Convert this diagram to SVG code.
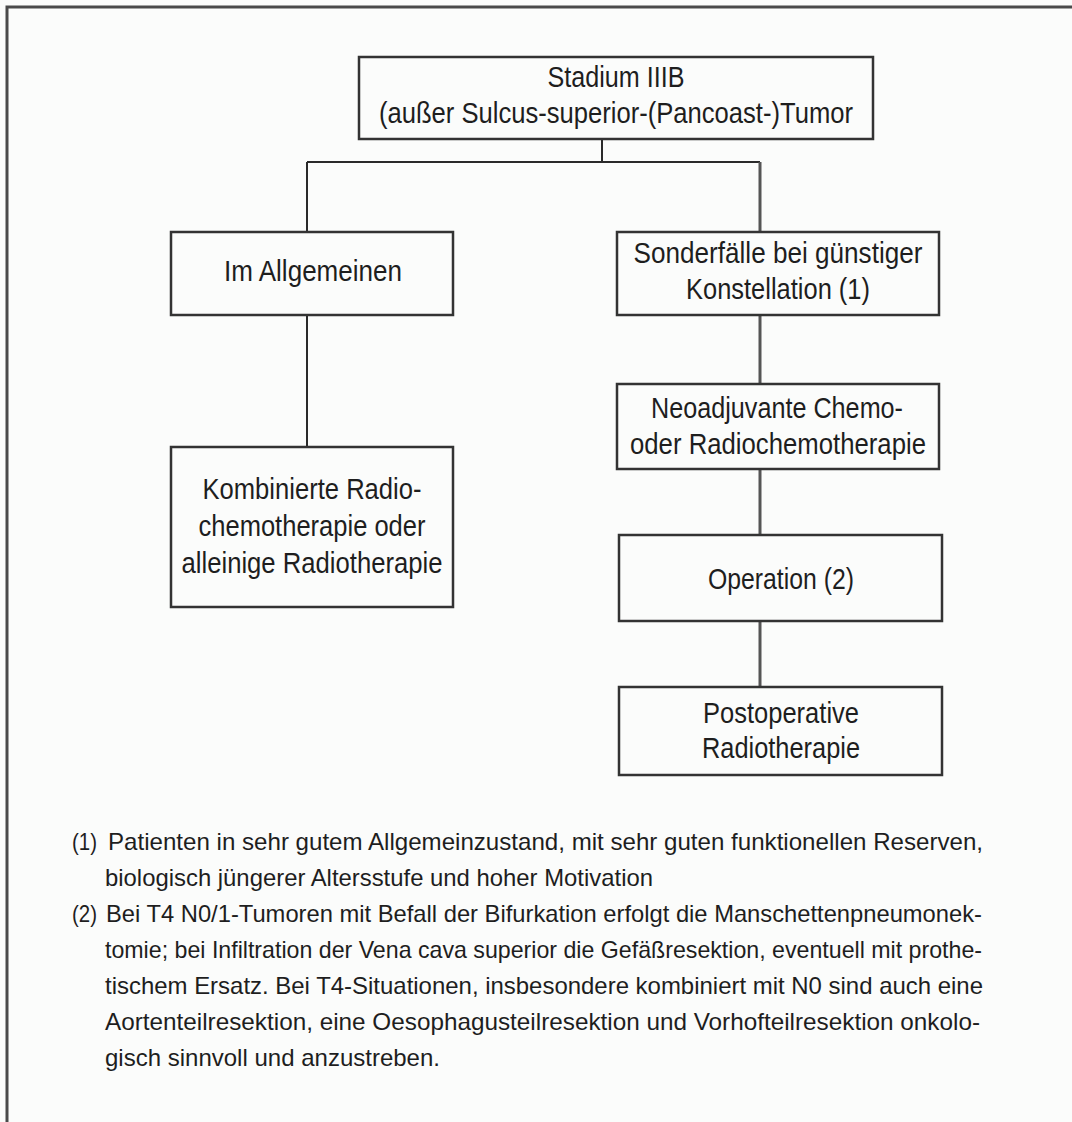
<svg xmlns="http://www.w3.org/2000/svg" width="1072" height="1122" viewBox="0 0 1072 1122">
<style>
.bg{fill:#fbfcfb}
.frame{fill:none;stroke:#4a4a4a;stroke-width:3}
.box{fill:#fbfcfb;stroke:#333;stroke-width:2.5}
.con{fill:none;stroke:#2a2a2a;stroke-width:2}
.con2{fill:none;stroke:#555;stroke-width:3}
.t{font-family:"Liberation Sans Narrow","Liberation Sans",Arial,sans-serif;font-size:29px;fill:#1e1e1e;text-anchor:middle}
.f{font-family:"Liberation Sans Narrow","Liberation Sans",Arial,sans-serif;font-size:24px;fill:#1e1e1e}
</style>
<rect class="bg" x="0" y="0" width="1072" height="1122"/>
<path class="frame" d="M7,1122 V7 H1072"/>
<g id="connectors">
<path class="con" d="M602,139 V162"/>
<path class="con" d="M307,162 H760"/>
<path class="con" d="M307,162 V232"/>
<path class="con2" d="M760,162 V232"/>
<path class="con" d="M307,315 V447"/>
<path class="con2" d="M760,315 V384"/>
<path class="con2" d="M760,469 V535"/>
<path class="con2" d="M760,621 V687"/>
</g>
<g id="n_stadium">
<rect class="box" x="359" y="57" width="514" height="82"/>
<text class="t" x="616" y="87" textLength="137" lengthAdjust="spacingAndGlyphs">Stadium IIIB</text>
<text class="t" x="616" y="123" textLength="474" lengthAdjust="spacingAndGlyphs">(außer Sulcus-superior-(Pancoast-)Tumor</text>
</g>
<g id="n_allgemein">
<rect class="box" x="171" y="232" width="282" height="83"/>
<text class="t" x="313" y="281" textLength="178" lengthAdjust="spacingAndGlyphs">Im Allgemeinen</text>
</g>
<g id="n_sonder">
<rect class="box" x="617" y="232" width="322" height="83"/>
<text class="t" x="778" y="263" textLength="289" lengthAdjust="spacingAndGlyphs">Sonderfälle bei günstiger</text>
<text class="t" x="778" y="299" textLength="184" lengthAdjust="spacingAndGlyphs">Konstellation (1)</text>
</g>
<g id="n_kombi">
<rect class="box" x="171" y="447" width="282" height="160"/>
<text class="t" x="312" y="499" textLength="219" lengthAdjust="spacingAndGlyphs">Kombinierte Radio-</text>
<text class="t" x="312" y="536" textLength="227" lengthAdjust="spacingAndGlyphs">chemotherapie oder</text>
<text class="t" x="312" y="573" textLength="261" lengthAdjust="spacingAndGlyphs">alleinige Radiotherapie</text>
</g>
<g id="n_neo">
<rect class="box" x="617" y="384" width="322" height="85"/>
<text class="t" x="777" y="418" textLength="252" lengthAdjust="spacingAndGlyphs">Neoadjuvante Chemo-</text>
<text class="t" x="778" y="454" textLength="296" lengthAdjust="spacingAndGlyphs">oder Radiochemotherapie</text>
</g>
<g id="n_op">
<rect class="box" x="619" y="535" width="323" height="86"/>
<text class="t" x="781" y="589" textLength="146" lengthAdjust="spacingAndGlyphs">Operation (2)</text>
</g>
<g id="n_postop">
<rect class="box" x="619" y="687" width="323" height="88"/>
<text class="t" x="781" y="723" textLength="156" lengthAdjust="spacingAndGlyphs">Postoperative</text>
<text class="t" x="781" y="758" textLength="158" lengthAdjust="spacingAndGlyphs">Radiotherapie</text>
</g>
<g id="footnotes">
<text class="f" x="72" y="850" textLength="25" lengthAdjust="spacingAndGlyphs">(1)</text>
<text class="f" x="108" y="850" textLength="875" lengthAdjust="spacingAndGlyphs">Patienten in sehr gutem Allgemeinzustand, mit sehr guten funktionellen Reserven,</text>
<text class="f" x="105" y="886" textLength="548" lengthAdjust="spacingAndGlyphs">biologisch jüngerer Altersstufe und hoher Motivation</text>
<text class="f" x="72" y="922" textLength="25" lengthAdjust="spacingAndGlyphs">(2)</text>
<text class="f" x="106" y="922" textLength="876" lengthAdjust="spacingAndGlyphs">Bei T4 N0/1-Tumoren mit Befall der Bifurkation erfolgt die Manschettenpneumonek-</text>
<text class="f" x="105" y="958" textLength="877" lengthAdjust="spacingAndGlyphs">tomie; bei Infiltration der Vena cava superior die Gefäßresektion, eventuell mit prothe-</text>
<text class="f" x="105" y="994" textLength="878" lengthAdjust="spacingAndGlyphs">tischem Ersatz. Bei T4-Situationen, insbesondere kombiniert mit N0 sind auch eine</text>
<text class="f" x="105" y="1030" textLength="875" lengthAdjust="spacingAndGlyphs">Aortenteilresektion, eine Oesophagusteilresektion und Vorhofteilresektion onkolo-</text>
<text class="f" x="105" y="1066" textLength="335" lengthAdjust="spacingAndGlyphs">gisch sinnvoll und anzustreben.</text>
</g>
</svg>
